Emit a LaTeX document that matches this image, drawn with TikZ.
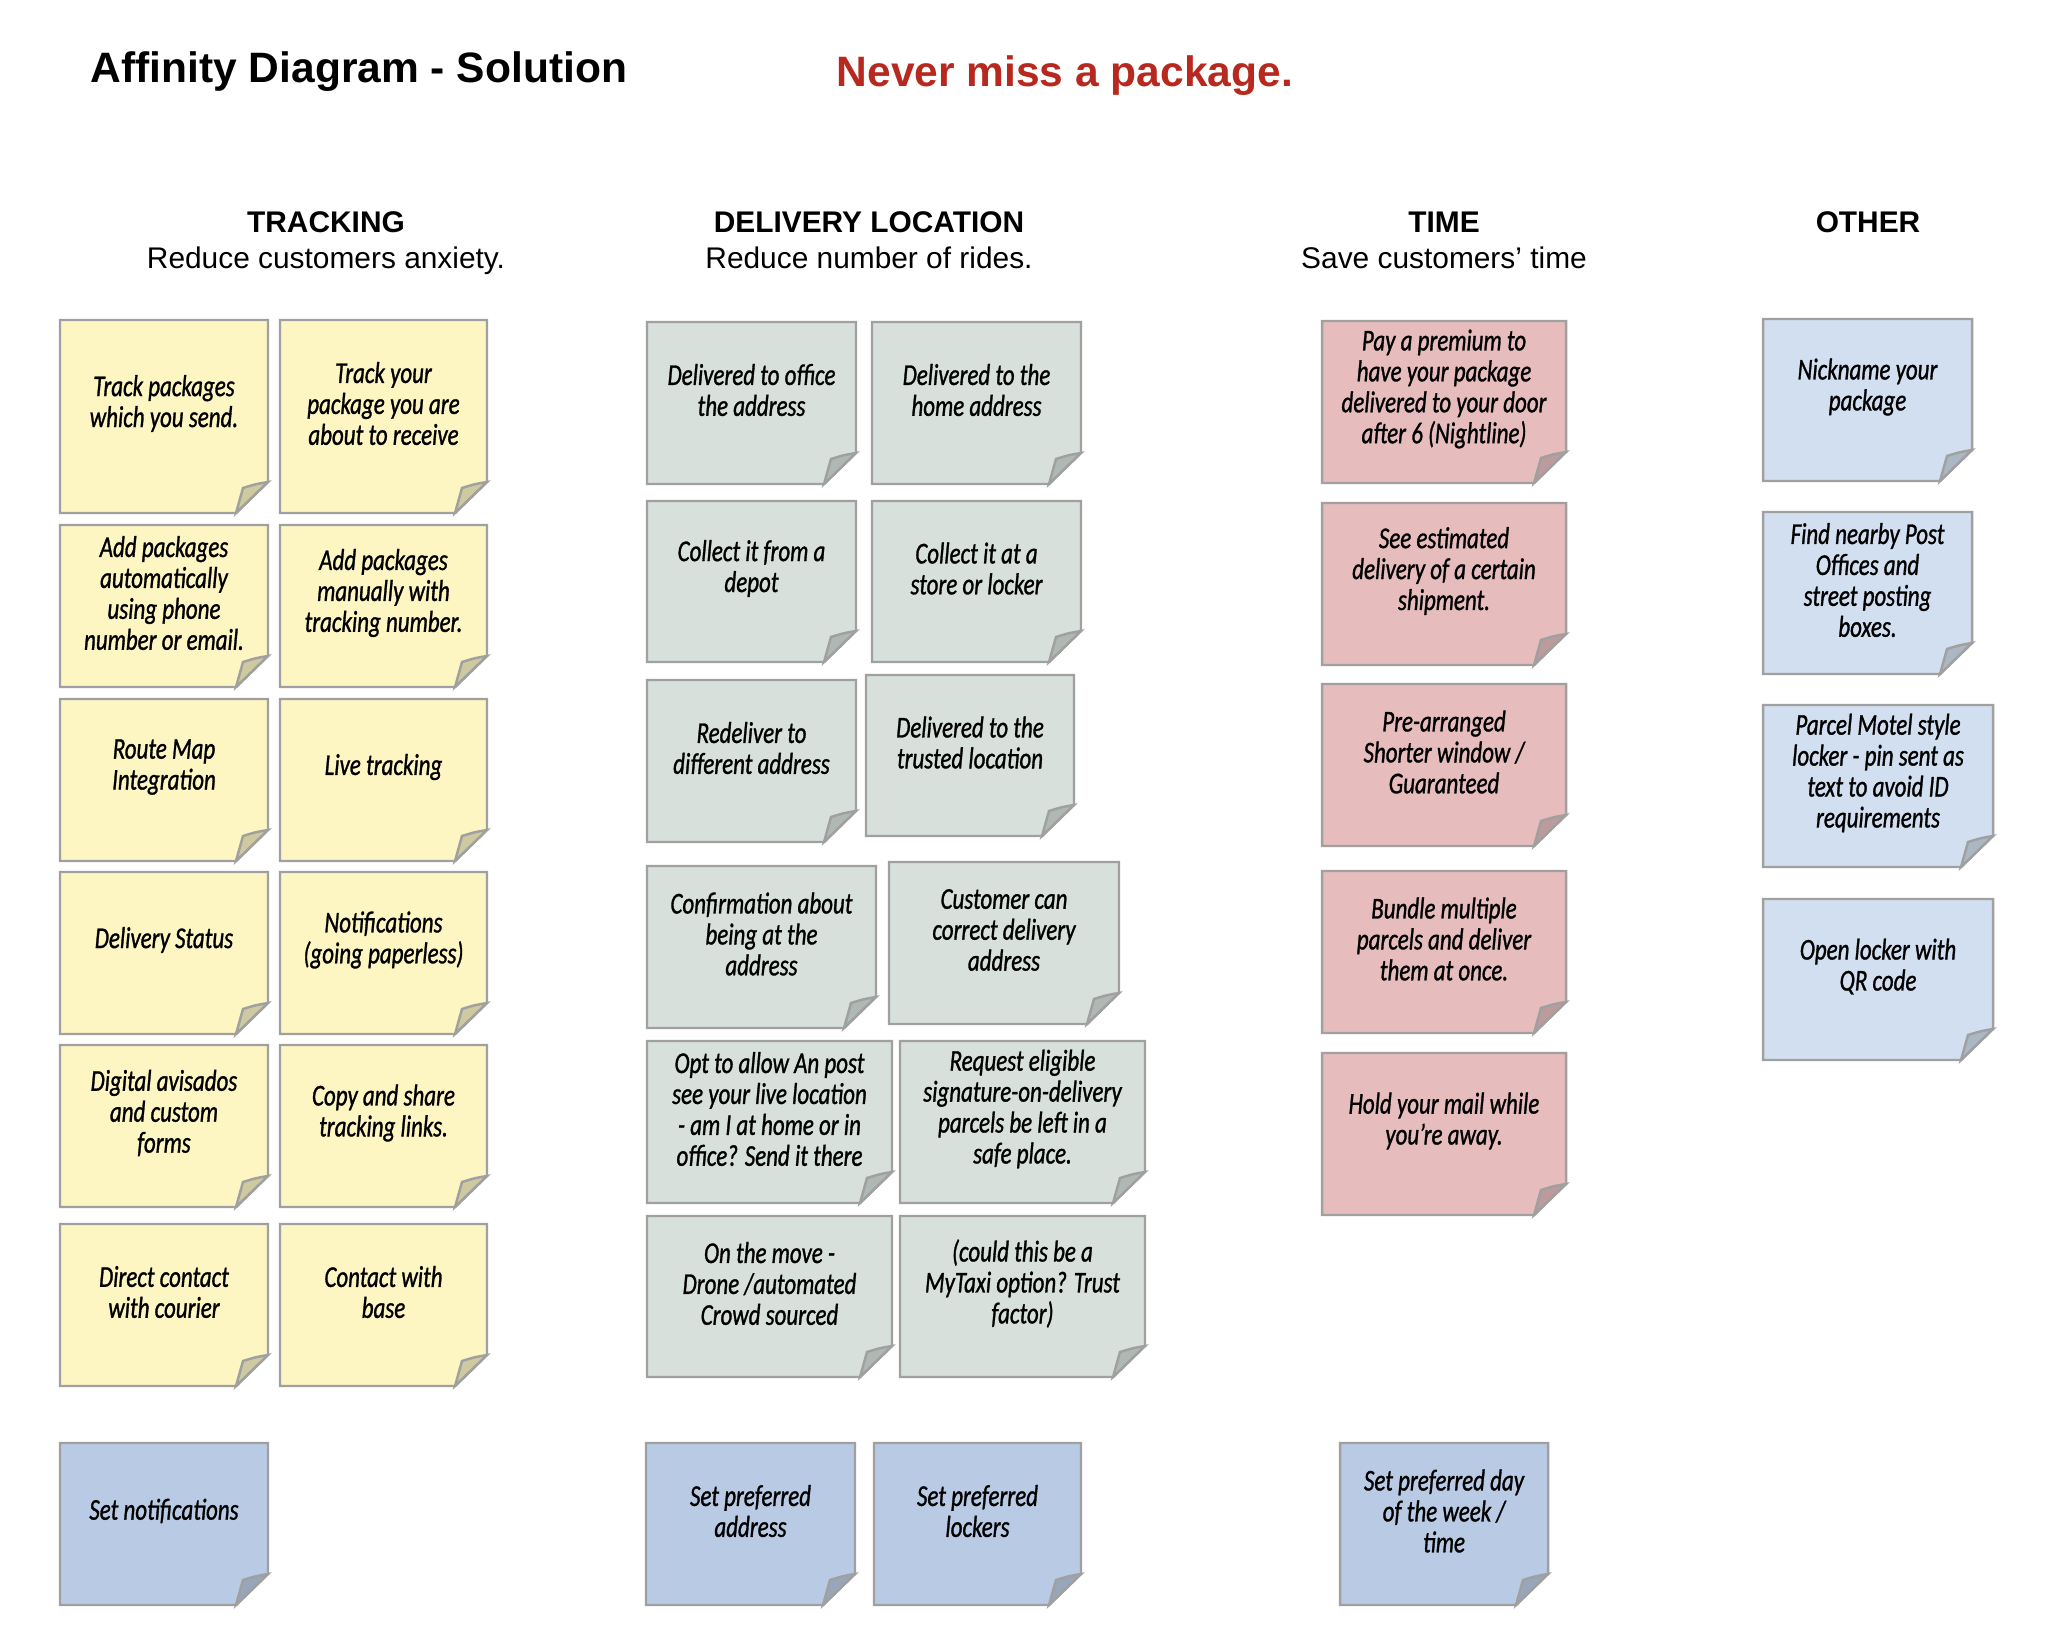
\documentclass[tikz,border=0pt]{standalone}
\usepackage{fontspec}
\setmainfont{Liberation Sans}
\newfontfamily\notefont{Carlito}[FakeStretch=0.76,FakeBold=1]
\usetikzlibrary{calc}

% nota adhesiva: #1 nombre, #2 color, #3 izq, #4 arriba, #5 der, #6 abajo, #7 texto
\newcommand{\stickynote}[7]{%
  \filldraw[notebody, fill=#2] (#3,#4) -- (#5,#4) -- (#5,#6-31) -- (#5-32,#6) -- (#3,#6) -- cycle;
  \filldraw[notebody, fill=#2!82!black] (#5,#6-31) .. controls (#5-12,#6-29) .. (#5-25,#6-25)
    .. controls (#5-29,#6-12) .. (#5-32,#6) -- cycle;
  \node[notetext] (#1) at ({(#3+#5)/2},{(#4+#6)/2-13}) {#7};
}

\begin{document}
\begin{tikzpicture}[x=0.1mm, y=-0.1mm]
		% Definición de colores
		\definecolor{trackyellow}{RGB}{253,245,194} % Amarillo de las notas
		\definecolor{placegreen}{RGB}{215,224,218}  % Verde grisáceo
		\definecolor{timepink}{RGB}{230,188,189}    % Rosa
		\definecolor{otherblue}{RGB}{210,223,240}   % Azul claro
		\definecolor{setblue}{RGB}{184,202,228}     % Azul de "Set ..."
		\definecolor{noteedge}{RGB}{160,160,160}    % Borde gris
		\definecolor{mottored}{RGB}{183,40,30}      % Rojo del lema
		
		\tikzset{
			notebody/.style={draw=noteedge, line width=0.7pt, line join=miter},
			notetext/.style={font=\notefont\itshape\fontsize{8.6}{8.8}\selectfont, align=center, inner sep=0pt},
			heading/.style={font=\bfseries\fontsize{8.5}{10}\selectfont, anchor=base},
			subheading/.style={font=\fontsize{8.5}{10}\selectfont, anchor=base}
		}
		\useasboundingbox (0,0) rectangle (2048,1630);
		
		% --- Títulos ---
		\node[font=\bfseries\fontsize{12.1}{14}\selectfont, anchor=base west, inner sep=0pt] (title) at (90,83) {Affinity Diagram - Solution};
		\node[font=\bfseries\fontsize{12.1}{14}\selectfont, text=mottored, anchor=base west, inner sep=0pt] (motto) at (836,87) {Never miss a package.};
		
		% --- Encabezados de columnas ---
		\node[heading] (hTrack) at (326,233) {TRACKING};
		\node[subheading] (sTrack) at (326,269) {Reduce customers anxiety.};
		\node[heading] (hPlace) at (869,233) {DELIVERY LOCATION};
		\node[subheading] (sPlace) at (869,269) {Reduce number of rides.};
		\node[heading] (hTime) at (1444,233) {TIME};
		\node[subheading] (sTime) at (1444,269) {Save customers’ time};
		\node[heading] (hOther) at (1868,233) {OTHER};
		
		% --- Tracking ---
		\stickynote{trk1}{trackyellow}{60}{320}{268}{513}{Track packages\\which you send.}
		\stickynote{trk2}{trackyellow}{280}{320}{487}{513}{Track your\\package you are\\about to receive}
		\stickynote{trk3}{trackyellow}{60}{525}{268}{687}{Add packages\\automatically\\using phone\\number or email.}
		\stickynote{trk4}{trackyellow}{280}{525}{487}{687}{Add packages\\manually with\\tracking number.}
		\stickynote{trk5}{trackyellow}{60}{699}{268}{861}{Route Map\\Integration}
		\stickynote{trk6}{trackyellow}{280}{699}{487}{861}{Live tracking}
		\stickynote{trk7}{trackyellow}{60}{872}{268}{1034}{Delivery Status}
		\stickynote{trk8}{trackyellow}{280}{872}{487}{1034}{Notifications\\(going paperless)}
		\stickynote{trk9}{trackyellow}{60}{1045}{268}{1207}{Digital avisados\\and custom\\forms}
		\stickynote{trk10}{trackyellow}{280}{1045}{487}{1207}{Copy and share\\tracking links.}
		\stickynote{trk11}{trackyellow}{60}{1224}{268}{1386}{Direct contact\\with courier}
		\stickynote{trk12}{trackyellow}{280}{1224}{487}{1386}{Contact with\\base}
		\stickynote{trkSet}{setblue}{60}{1443}{268}{1605}{Set notifications}
		
		% --- Delivery location ---
		\stickynote{loc1}{placegreen}{647}{322}{856}{484}{Delivered to office\\the address}
		\stickynote{loc2}{placegreen}{872}{322}{1081}{484}{Delivered to the\\home address}
		\stickynote{loc3}{placegreen}{647}{501}{856}{662}{Collect it from a\\depot}
		\stickynote{loc4}{placegreen}{872}{501}{1081}{662}{Collect it at a\\store or locker}
		\stickynote{loc5}{placegreen}{647}{680}{856}{842}{Redeliver to\\different address}
		\stickynote{loc6}{placegreen}{866}{675}{1074}{836}{Delivered to the\\trusted location}
		\stickynote{loc7}{placegreen}{647}{866}{876}{1028}{Confirmation about\\being at the\\address}
		\stickynote{loc8}{placegreen}{889}{862}{1119}{1024}{Customer can\\correct delivery\\address}
		\stickynote{loc9}{placegreen}{647}{1041}{892}{1203}{Opt to allow An post\\see your live location\\- am I at home or in\\office? Send it there}
		\stickynote{loc10}{placegreen}{900}{1041}{1145}{1203}{Request eligible\\signature-on-delivery\\parcels be left in a\\safe place.}
		\stickynote{loc11}{placegreen}{647}{1216}{892}{1377}{On the move -\\Drone /automated\\Crowd sourced}
		\stickynote{loc12}{placegreen}{900}{1216}{1145}{1377}{(could this be a\\MyTaxi option? Trust\\factor)}
		\stickynote{locSetA}{setblue}{646}{1443}{855}{1605}{Set preferred\\address}
		\stickynote{locSetB}{setblue}{874}{1443}{1081}{1605}{Set preferred\\lockers}
		
		% --- Time ---
		\stickynote{tim1}{timepink}{1322}{321}{1566}{483}{Pay a premium to\\have your package\\delivered to your door\\after 6 (Nightline)}
		\stickynote{tim2}{timepink}{1322}{503}{1566}{665}{See estimated\\delivery of a certain\\shipment.}
		\stickynote{tim3}{timepink}{1322}{684}{1566}{846}{Pre-arranged\\Shorter window /\\Guaranteed}
		\stickynote{tim4}{timepink}{1322}{871}{1566}{1033}{Bundle multiple\\parcels and deliver\\them at once.}
		\stickynote{tim5}{timepink}{1322}{1053}{1566}{1215}{Hold your mail while\\you’re away.}
		\stickynote{timSet}{setblue}{1340}{1443}{1548}{1605}{Set preferred day\\of the week /\\time}
		
		% --- Other ---
		\stickynote{oth1}{otherblue}{1763}{319}{1972}{481}{Nickname your\\package}
		\stickynote{oth2}{otherblue}{1763}{512}{1972}{674}{Find nearby Post\\Offices and\\street posting\\boxes.}
		\stickynote{oth3}{otherblue}{1763}{705}{1993}{867}{Parcel Motel style\\locker - pin sent as\\text to avoid ID\\requirements}
		\stickynote{oth4}{otherblue}{1763}{899}{1993}{1060}{Open locker with\\QR code}
		
	\end{tikzpicture}
\end{document}
